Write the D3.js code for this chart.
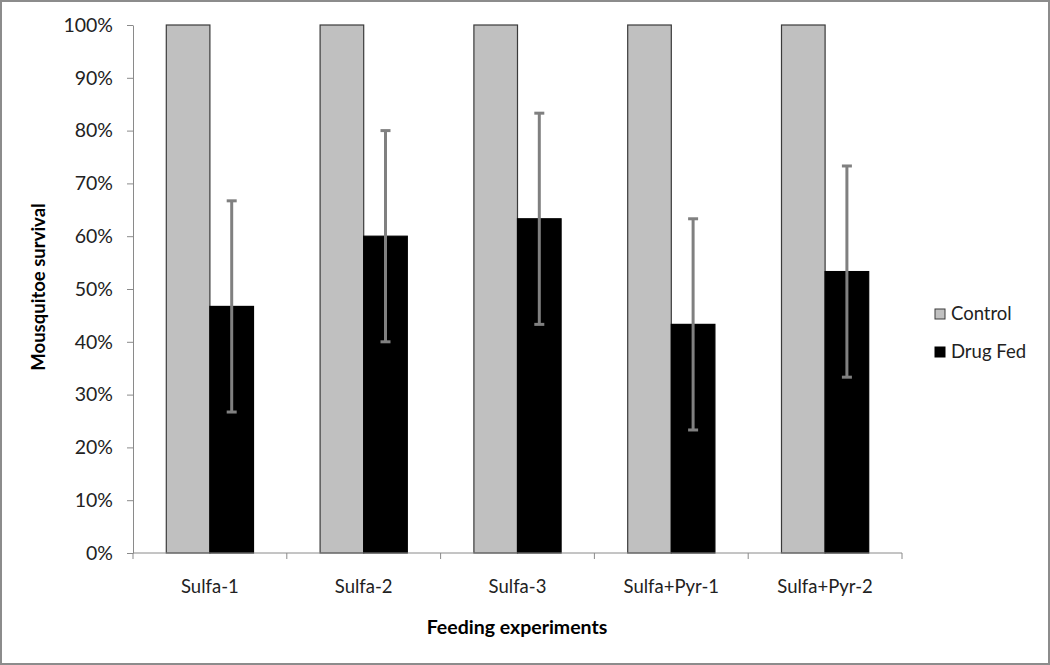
<!DOCTYPE html>
<html><head><meta charset="utf-8">
<script src="https://cdn.jsdelivr.net/npm/d3@7"></script>
<style>
body{margin:0;background:#fff;}
svg{display:block;}
text{font-family:Lato,"Open Sans",sans-serif;}
</style></head>
<body><svg id="c" width="1050" height="665"></svg>
<script>
const categories = ["Sulfa-1","Sulfa-2","Sulfa-3","Sulfa+Pyr-1","Sulfa+Pyr-2"];
const seriesNames = ["Control","Drug Fed"];
const controlValues = [1.0,1.0,1.0,1.0,1.0];
const drugFedValues = [0.467,0.600,0.633,0.433,0.533];
const drugFedError = [0.20,0.20,0.20,0.20,0.20];
const yTicks = [0,0.1,0.2,0.3,0.4,0.5,0.6,0.7,0.8,0.9,1.0];

const svg = d3.select("#c");
const W=1050,H=665;
svg.append("rect").attr("x",1).attr("y",1).attr("width",W-2).attr("height",H-2)
  .attr("fill","#fff").attr("stroke","#8c8c8c").attr("stroke-width",2);

const pL=133,pR=902,pT=25,pB=553;
const x0=d3.scaleBand().domain(categories).range([pL,pR]).paddingInner(0).paddingOuter(0);
const x1=d3.scaleBand().domain(seriesNames).range([x0.bandwidth()*0.2165,x0.bandwidth()*0.7835]).padding(0);
const y=d3.scaleLinear().domain([0,1]).range([pB,pT]);
const colors={"Control":"#c0c0c0","Drug Fed":"#000000"};

// Y axis
const yAxis=d3.axisLeft(y).tickValues(yTicks).tickFormat(d3.format(".0%")).tickSize(6).tickSizeOuter(0);
const gy=svg.append("g").attr("transform",`translate(${pL},0)`).call(yAxis);
gy.selectAll("path,line").attr("stroke","#8a8a8a");
gy.selectAll("text").attr("font-size",19.5).attr("fill","#222").attr("x",-20).attr("font-family","Lato");

// bars
const data=categories.map((c,i)=>({cat:c,vals:[{s:"Control",v:controlValues[i]},{s:"Drug Fed",v:drugFedValues[i],e:drugFedError[i]}]}));
const g=svg.append("g");
const grp=g.selectAll("g").data(data).join("g").attr("transform",d=>`translate(${x0(d.cat)},0)`);
grp.selectAll("rect").data(d=>d.vals).join("rect")
  .attr("x",d=>x1(d.s)).attr("width",x1.bandwidth())
  .attr("y",d=>y(d.v)).attr("height",d=>y(0)-y(d.v))
  .attr("fill",d=>colors[d.s])
  .attr("stroke",d=>d.s==="Control"?"#3a3a3a":"#000").attr("stroke-width",1.2);

// error bars
grp.each(function(d){
  const v=d.vals[1]; const cx=x1(v.s)+x1.bandwidth()/2;
  const gg=d3.select(this);
  gg.append("line").attr("x1",cx).attr("x2",cx).attr("y1",y(v.v+v.e)).attr("y2",y(v.v-v.e))
    .attr("stroke","#808080").attr("stroke-width",3);
  [v.v+v.e,v.v-v.e].forEach(t=>{
    gg.append("line").attr("x1",cx-5).attr("x2",cx+5).attr("y1",y(t)).attr("y2",y(t))
      .attr("stroke","#808080").attr("stroke-width",3);
  });
});

// X axis
const gx=svg.append("g").attr("transform",`translate(0,${pB})`);
gx.append("line").attr("x1",pL).attr("x2",pR).attr("y1",0).attr("y2",0).attr("stroke","#8a8a8a");
const bounds=categories.map(c=>x0(c)).concat([pR]);
gx.selectAll("line.t").data(bounds).join("line").attr("class","t")
  .attr("x1",d=>d).attr("x2",d=>d).attr("y1",0).attr("y2",6).attr("stroke","#8a8a8a");
gx.selectAll("text").data(categories).join("text")
  .attr("x",d=>x0(d)+x0.bandwidth()/2).attr("y",40).attr("text-anchor","middle")
  .attr("font-size",18.5).attr("fill","#222").text(d=>d);

// titles
svg.append("text").attr("x",517).attr("y",634).attr("text-anchor","middle")
  .attr("font-size",19.5).attr("font-weight","bold").attr("fill","#000").text("Feeding experiments");
svg.append("text").attr("transform",`translate(45,287) rotate(-90)`).attr("text-anchor","middle")
  .attr("font-size",18.5).attr("font-weight","bold").attr("fill","#000").text("Mousquitoe survival");

// legend
const lg=svg.append("g").selectAll("g").data(seriesNames).join("g")
  .attr("transform",(d,i)=>`translate(935,${309+i*38})`);
lg.append("rect").attr("width",10).attr("height",10)
  .attr("fill",d=>colors[d]).attr("stroke",d=>d==="Control"?"#3a3a3a":"#000").attr("stroke-width",1);
lg.append("text").attr("x",16).attr("y",5).attr("dy","0.35em").attr("font-size",18.5).attr("fill","#222").text(d=>d);
</script></body></html>
